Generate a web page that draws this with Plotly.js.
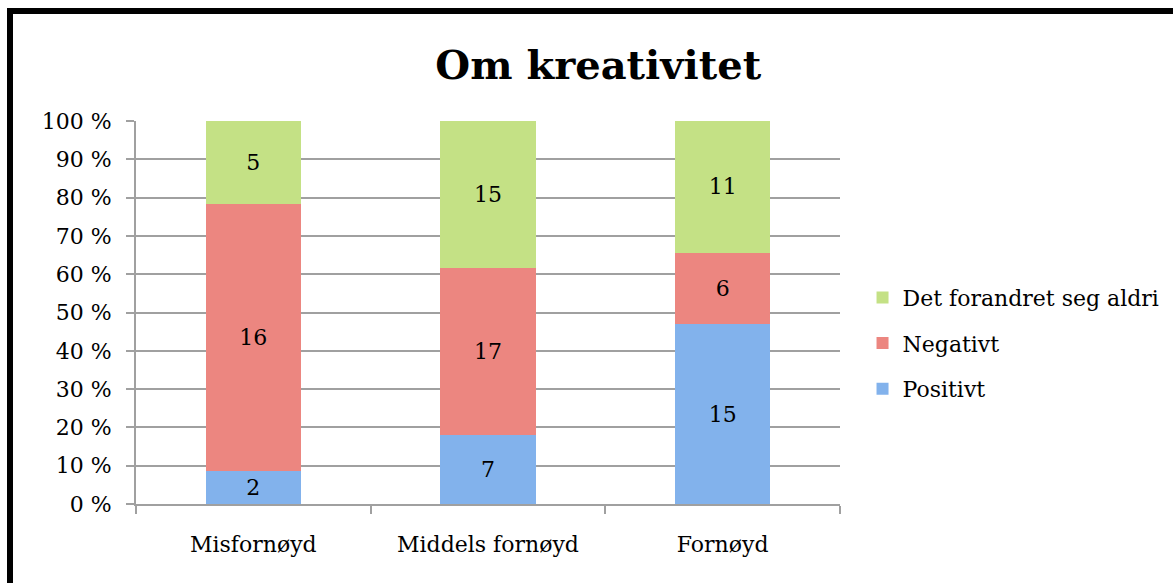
<!DOCTYPE html>
<html>
<head>
<meta charset="utf-8">
<script src="https://cdn.plot.ly/plotly-3.0.1.min.js"></script>
<style>
  html, body { margin: 0; padding: 0; width: 1173px; height: 583px; overflow: hidden; background: #fff; }
  #frame { position: absolute; left: 7px; top: 8px; width: 1300px; height: 700px; border-left: 6px solid #000; border-top: 6px solid #000; box-sizing: border-box; }
  #chart { position: absolute; left: 0; top: 0; width: 1173px; height: 583px; }
</style>
</head>
<body>
<div id="frame"></div>
<div id="chart"></div>
<script>
const categories = ['Misfornøyd', 'Middels fornøyd', 'Fornøyd'];
const positivt = [2, 7, 15];
const negativt = [16, 17, 6];
const aldri = [5, 15, 11];
const seriesNames = ['Positivt', 'Negativt', 'Det forandret seg aldri'];
const chartTitle = 'Om kreativitet';

const FONT = 'DejaVu Serif, serif';
const colors = ['#82b2ec', '#ec8680', '#c4e185'];
const seriesVals = [positivt, negativt, aldri];

const traces = seriesVals.map((vals, i) => ({
  type: 'bar',
  name: seriesNames[i],
  x: categories,
  y: vals,
  text: vals.map(String),
  texttemplate: '%{text}',
  textposition: 'inside',
  insidetextanchor: 'middle',
  textangle: 0,
  textfont: { family: FONT, size: 22, color: '#000' },
  marker: { color: colors[i], line: { width: 0 } },
  legendgroup: 'g' + i,
  legendrank: seriesVals.length - i,
  hoverinfo: 'none'
}));

const layout = {
  width: 1173,
  height: 583,
  paper_bgcolor: 'rgba(0,0,0,0)',
  plot_bgcolor: 'rgba(0,0,0,0)',
  margin: { l: 136, r: 333, t: 121, b: 79, pad: 0, autoexpand: false },
  barmode: 'stack',
  barnorm: 'percent',
  bargap: 0.595,
  font: { family: FONT, size: 22, color: '#000' },
  title: {
    text: '<b>' + chartTitle + '</b>',
    font: { family: FONT, size: 40, color: '#000' },
    x: 0.51, xanchor: 'center', xref: 'container',
    y: 1 - 65 / 583, yanchor: 'middle', yref: 'container'
  },
  xaxis: {
    type: 'category',
    tickson: 'boundaries',
    ticks: 'outside',
    ticklen: 8,
    tickwidth: 2,
    tickcolor: '#a0a0a0',
    showline: true,
    linecolor: '#a0a0a0',
    linewidth: 2,
    showgrid: false,
    automargin: false,
    ticklabelstandoff: 20,
    tickfont: { family: FONT, size: 22, color: '#000' }
  },
  yaxis: {
    range: [0, 100],
    dtick: 10,
    tick0: 0,
    ticksuffix: ' %',
    ticks: 'outside',
    ticklen: 8,
    tickwidth: 2,
    tickcolor: '#a0a0a0',
    showline: true,
    linecolor: '#a0a0a0',
    linewidth: 2,
    showgrid: true,
    gridcolor: '#a0a0a0',
    gridwidth: 2,
    zeroline: false,
    automargin: false,
    ticklabelstandoff: 10,
    tickfont: { family: FONT, size: 22, color: '#000' }
  },
  showlegend: true,
  legend: {
    traceorder: 'grouped',
    tracegroupgap: 14,
    x: 1.032, xanchor: 'left',
    y: 0.42, yanchor: 'middle',
    font: { family: FONT, size: 22, color: '#000' },
    bgcolor: 'rgba(0,0,0,0)',
    itemwidth: 30
  }
};

Plotly.newPlot('chart', traces, layout, { staticPlot: true, displayModeBar: false });
</script>
</body>
</html>
